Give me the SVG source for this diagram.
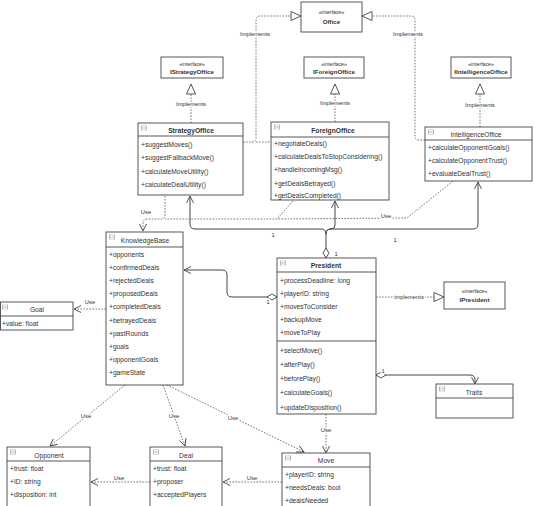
<svg xmlns="http://www.w3.org/2000/svg" width="534" height="506" viewBox="0 0 534 506">
<style>
.box{fill:#fff;stroke:#444;stroke-width:0.9}
.div{stroke:#444;stroke-width:0.9}
.ic{fill:#fff;stroke:#888;stroke-width:0.6}
text{font-family:"Liberation Sans",Arial,sans-serif;fill:#333}
.m{font-size:6.7px}
.t{font-size:6.7px;text-anchor:middle}
.b{font-weight:bold}
.st{font-size:5.2px;text-anchor:middle}
.in{font-size:6.2px;text-anchor:middle;font-weight:bold}
.lb{font-size:5.8px;text-anchor:middle;stroke:#fff;stroke-width:2.5;paint-order:stroke}
.dash{fill:none;stroke:#555;stroke-width:0.8;stroke-dasharray:1.6,1.4}
.sol{fill:none;stroke:#444;stroke-width:1}
</style>
<defs>
<marker id="tri" markerUnits="userSpaceOnUse" markerWidth="12" markerHeight="11" viewBox="0 0 12 11" refX="11" refY="5.5" orient="auto"><path d="M1,1 L11,5.5 L1,10 Z" fill="#fff" stroke="#444" stroke-width="0.9"/></marker>
<marker id="open" markerUnits="userSpaceOnUse" markerWidth="9" markerHeight="9" viewBox="0 0 9 9" refX="8" refY="4.5" orient="auto"><path d="M1,1 L8,4.5 L1,8" fill="none" stroke="#444" stroke-width="0.9"/></marker>
<marker id="dia" markerUnits="userSpaceOnUse" markerWidth="11" markerHeight="8" viewBox="0 0 11 8" refX="0.5" refY="4" orient="auto"><path d="M0.5,4 L5.5,1 L10.5,4 L5.5,7 Z" fill="#fff" stroke="#444" stroke-width="0.9"/></marker>
<symbol id="icon" viewBox="0 0 6 5"><rect x="0.3" y="0.3" width="5.4" height="4.4" fill="#fff" stroke="#888" stroke-width="0.6"/><line x1="1.3" y1="2.5" x2="4.7" y2="2.5" stroke="#888" stroke-width="0.6"/></symbol>
</defs>

<g id="connectors">
<!-- Implements to Office -->
<path class="dash" d="M243,142 L252,142 Q256,142 256,138 L256,20 Q256,16 260,16 L301,16" marker-end="url(#tri)"/>
<path class="dash" d="M256,142 L271,142"/>
<path class="dash" d="M425,140 L419,140 Q415,140 415,136 L415,20 Q415,16 411,16 L362,16" marker-end="url(#tri)"/>
<!-- Implements to interfaces -->
<path class="dash" d="M191,123 L191,84" marker-end="url(#tri)"/>
<path class="dash" d="M335,122 L335,84" marker-end="url(#tri)"/>
<path class="dash" d="M480,127 L480,84" marker-end="url(#tri)"/>
<!-- Aggregation President -> Offices -->
<path class="sol" d="M326,258 L326,234 Q326,229 321,229 L195,229 Q190,229 190,224 L190,196" marker-start="url(#dia)" marker-end="url(#open)"/>
<path class="sol" d="M326,234 Q326,229 331,229 Q335,229 335,225 L335,201" marker-end="url(#open)"/>
<path class="sol" d="M326,234 Q326,229 331,229 L473,229 Q478,229 478,224 L478,182" marker-end="url(#open)"/>
<!-- Use offices -> KnowledgeBase -->
<path class="dash" d="M165,196 L165,215 Q165,219 161,219 L147,219 Q143,219 143,223 L143,231" marker-end="url(#open)"/>
<path class="dash" d="M293,201 L277,219 L165,219"/>
<path class="dash" d="M453,181 L407,218 L277,219"/>
<!-- Aggregation President -> KnowledgeBase -->
<path class="sol" d="M277,297 L232,297 Q227,297 227,292 L227,275 Q227,270 222,270 L184,270" marker-start="url(#dia)" marker-end="url(#open)"/>
<!-- KB -> Goal -->
<path class="dash" d="M106,309 L74,309" marker-end="url(#open)"/>
<!-- President implements IPresident -->
<path class="dash" d="M376,297 L444,297" marker-end="url(#tri)"/>
<!-- President -> Traits -->
<path class="sol" d="M376,375 L470,375 Q475,375 475,380 L475,384" marker-start="url(#dia)" marker-end="url(#open)"/>
<!-- KB uses -->
<path class="dash" d="M125,385 L50,446" marker-end="url(#open)"/>
<path class="dash" d="M163,385 L185,446" marker-end="url(#open)"/>
<path class="dash" d="M167,385 L304,452" marker-end="url(#open)"/>
<path class="dash" d="M326,414 L326,453" marker-end="url(#open)"/>
<path class="dash" d="M150,482 L91,482" marker-end="url(#open)"/>
<path class="dash" d="M282,482 L223,482" marker-end="url(#open)"/>
<!-- labels -->
<text class="lb" x="255" y="36">Implements</text>
<text class="lb" x="408" y="36">Implements</text>
<text class="lb" x="191" y="106">Implements</text>
<text class="lb" x="335" y="105">Implements</text>
<text class="lb" x="480" y="107">Implements</text>
<text class="lb" x="146" y="214">Use</text>
<text class="lb" x="386" y="218">Use</text>
<text class="lb" x="90" y="304">Use</text>
<text class="lb" x="409" y="299">implements</text>
<text class="lb" x="86" y="418">Use</text>
<text class="lb" x="174" y="418">Use</text>
<text class="lb" x="233" y="420">Use</text>
<text class="lb" x="326" y="432">Use</text>
<text class="lb" x="119" y="480">Use</text>
<text class="lb" x="252" y="480">Use</text>
<text class="lb" x="273" y="237">1</text>
<text class="lb" x="395" y="242">1</text>
<text class="lb" x="336" y="256">1</text>
<text class="lb" x="268" y="304">1</text>
<text class="lb" x="383" y="373">1</text>
</g>

<g id="Office">
<rect class="box" x="301" y="2" width="61" height="30"/>
<text class="st" x="331.5" y="14">«interface»</text>
<text class="in" x="331.5" y="24">Office</text>
</g>
<g id="IStrategyOffice">
<rect class="box" x="161" y="57" width="62" height="21"/>
<text class="st" x="192" y="65.5">«interface»</text>
<text class="in" x="192" y="74">IStrategyOffice</text>
</g>
<g id="IForeignOffice">
<rect class="box" x="304" y="57" width="60" height="21"/>
<text class="st" x="334" y="65.5">«interface»</text>
<text class="in" x="334" y="74">IForeignOffice</text>
</g>
<g id="IIntelligenceOffice">
<rect class="box" x="451" y="57" width="60" height="21"/>
<text class="st" x="481" y="65.5">«interface»</text>
<text class="in" x="481" y="74">IIntelligenceOffice</text>
</g>

<g id="StrategyOffice">
<rect class="box" x="138" y="123" width="105" height="72"/>
<line class="div" x1="138" y1="136" x2="243" y2="136"/>
<use href="#icon" x="141" y="125.5" width="6" height="5"/>
<text class="t b" x="191" y="133">StrategyOffice</text>
<text class="m" x="141" y="146.5">+suggestMoves()</text>
<text class="m" x="141" y="160">+suggestFallbackMove()</text>
<text class="m" x="141" y="173.5">+calculateMoveUtility()</text>
<text class="m" x="141" y="187">+calculateDealUtility()</text>
</g>

<g id="ForeignOffice">
<rect class="box" x="271" y="122" width="118" height="78"/>
<line class="div" x1="271" y1="137" x2="389" y2="137"/>
<use href="#icon" x="274" y="124.5" width="6" height="5"/>
<text class="t b" x="333" y="132.5">ForeignOffice</text>
<text class="m" x="274" y="145.5">+negotiateDeals()</text>
<text class="m" x="274" y="159">+calculateDealsToStopConsidering()</text>
<text class="m" x="274" y="172.3">+handleIncomingMsg()</text>
<text class="m" x="274" y="185.5">+getDealsBetrayed()</text>
<text class="m" x="274" y="198.3">+getDealsCompleted()</text>
</g>

<g id="IntelligenceOffice">
<rect class="box" x="425" y="127" width="107" height="54"/>
<line class="div" x1="425" y1="140" x2="532" y2="140"/>
<use href="#icon" x="428" y="129.5" width="6" height="5"/>
<text class="t" x="476" y="136.5">IntelligenceOffice</text>
<text class="m" x="428" y="150">+calculateOpponentGoals()</text>
<text class="m" x="428" y="163.3">+calculateOpponentTrust()</text>
<text class="m" x="428" y="175.7">+evaluateDealTrust()</text>
</g>

<g id="KnowledgeBase">
<rect class="box" x="106" y="232" width="77" height="153"/>
<line class="div" x1="106" y1="247" x2="183" y2="247"/>
<use href="#icon" x="109" y="234.5" width="6" height="5"/>
<text class="t" x="145" y="242.5">KnowledgeBase</text>
<text class="m" x="109" y="256.5">+opponents</text>
<text class="m" x="109" y="269.7">+confirmedDeals</text>
<text class="m" x="109" y="282.9">+rejectedDeals</text>
<text class="m" x="109" y="296.1">+proposedDeals</text>
<text class="m" x="109" y="309.3">+completedDeals</text>
<text class="m" x="109" y="322.5">+betrayedDeals</text>
<text class="m" x="109" y="335.7">+pastRounds</text>
<text class="m" x="109" y="348.9">+goals</text>
<text class="m" x="109" y="362.1">+opponentGoals</text>
<text class="m" x="109" y="375.3">+gameState</text>
</g>

<g id="President">
<rect class="box" x="277" y="258" width="99" height="156"/>
<line class="div" x1="277" y1="272" x2="376" y2="272"/>
<line class="div" x1="277" y1="341" x2="376" y2="341"/>
<use href="#icon" x="280" y="260.5" width="6" height="5"/>
<text class="t b" x="326" y="268.3">President</text>
<text class="m" x="280" y="282.5">+processDeadline: long</text>
<text class="m" x="280" y="295.5">+playerID: string</text>
<text class="m" x="280" y="308.7">+movesToConsider</text>
<text class="m" x="280" y="321.9">+backupMove</text>
<text class="m" x="280" y="335.1">+moveToPlay</text>
<text class="m" x="280" y="352.5">+selectMove()</text>
<text class="m" x="280" y="366.7">+afterPlay()</text>
<text class="m" x="280" y="380.7">+beforePlay()</text>
<text class="m" x="280" y="395.3">+calculateGoals()</text>
<text class="m" x="280" y="409.5">+updateDisposition()</text>
</g>

<g id="IPresident">
<rect class="box" x="444" y="282" width="61" height="27"/>
<text class="st" x="474.5" y="293">«interface»</text>
<text class="in" x="474.5" y="301.5">IPresident</text>
</g>

<g id="Traits">
<rect class="box" x="436" y="384" width="77" height="34"/>
<line class="div" x1="436" y1="398" x2="513" y2="398"/>
<use href="#icon" x="439" y="386.5" width="6" height="5"/>
<text class="t" x="474" y="394.5">Traits</text>
</g>

<g id="Goal">
<rect class="box" x="0.5" y="302" width="72.5" height="28"/>
<line class="div" x1="0.5" y1="316" x2="73" y2="316"/>
<use href="#icon" x="2" y="304.5" width="6" height="5"/>
<text class="t" x="37" y="312">Goal</text>
<text class="m" x="2" y="325.8">+value: float</text>
</g>

<g id="Opponent">
<rect class="box" x="7" y="447" width="83" height="64"/>
<line class="div" x1="7" y1="461" x2="90" y2="461"/>
<use href="#icon" x="10" y="449.5" width="6" height="5"/>
<text class="t" x="49" y="457.5">Opponent</text>
<text class="m" x="10" y="470.7">+trust: float</text>
<text class="m" x="10" y="484">+ID: string</text>
<text class="m" x="10" y="497.3">+disposition: int</text>
</g>

<g id="Deal">
<rect class="box" x="150" y="447" width="72" height="64"/>
<line class="div" x1="150" y1="461" x2="222" y2="461"/>
<use href="#icon" x="153" y="449.5" width="6" height="5"/>
<text class="t" x="186" y="457.5">Deal</text>
<text class="m" x="153" y="470.7">+trust: float</text>
<text class="m" x="153" y="484">+proposer</text>
<text class="m" x="153" y="497.3">+acceptedPlayers</text>
</g>

<g id="Move">
<rect class="box" x="282" y="453" width="88" height="58"/>
<line class="div" x1="282" y1="467" x2="370" y2="467"/>
<use href="#icon" x="285" y="455.5" width="6" height="5"/>
<text class="t" x="326" y="463.3">Move</text>
<text class="m" x="285" y="476.8">+playerID: string</text>
<text class="m" x="285" y="490">+needsDeals: bool</text>
<text class="m" x="285" y="503">+dealsNeeded</text>
</g>
</svg>
